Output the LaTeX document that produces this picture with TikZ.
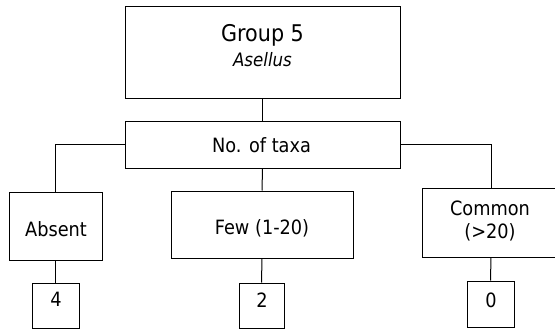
\documentclass[tikz,border=0pt]{standalone}
\usepackage{fontspec}
\setmainfont{DejaVu Sans}[FakeStretch=0.9]
\begin{document}
\begin{tikzpicture}[x=1pt,y=-1pt,
  box/.style={draw=black,line width=1pt,inner sep=0pt,rectangle},
  lbl/.style={inner sep=0pt,anchor=base,font=\fontsize{19.7}{22}\selectfont},
  conn/.style={draw=black,line width=1pt}]
\useasboundingbox (0,0) rectangle (555,329);
\clip (0,0) rectangle (555,329);
% boxes
\node[box,minimum width=275pt,minimum height=92pt] (top) at (262.5,53) {};
\node[box,minimum width=275pt,minimum height=46pt] (ntx) at (262.5,145) {};
\node[box,minimum width=93pt,minimum height=68pt] (absent) at (55.5,226) {};
\node[box,minimum width=182pt,minimum height=67pt] (few) at (262,224.5) {};
\node[box,minimum width=138pt,minimum height=69pt] (common) at (491,222.5) {};
\node[box,minimum width=47pt,minimum height=45pt] (n4) at (55.5,305.5) {};
\node[box,minimum width=45pt,minimum height=45pt] (n2) at (261.5,305.5) {};
\node[box,minimum width=47pt,minimum height=46pt] (n0) at (490.5,304) {};
% texts
\node[lbl,font=\fontsize{23}{26}\selectfont] (tg) at (262.5,42) {Group 5};
\node[lbl,font=\fontsize{18.5}{22}\selectfont\itshape] (ta) at (262.5,67) {Asellus};
\node[lbl] (tn) at (261.5,153) {No. of taxa};
\node[lbl] (tab) at (56,236) {Absent};
\node[lbl] (tf) at (262,234) {Few (1-20)};
\node[lbl] (tc1) at (490,215) {Common};
\node[lbl] (tc2) at (490,238) {(>20)};
\node[lbl] (t4) at (56,306) {4};
\node[lbl] (t2) at (262,307) {2};
\node[lbl] (t0) at (491,307) {0};
% connectors
\draw[conn] (top.south) -- (ntx.north);
\draw[conn] (ntx.west) -| (absent.north);
\draw[conn] (ntx.east) -| (common.north);
\draw[conn] (ntx.south) -- (few.north);
\draw[conn] (absent.south) -- (n4.north);
\draw[conn] (few.south) -- (n2.north);
\draw[conn] (common.south) -- (n0.north);
\end{tikzpicture}
\end{document}
